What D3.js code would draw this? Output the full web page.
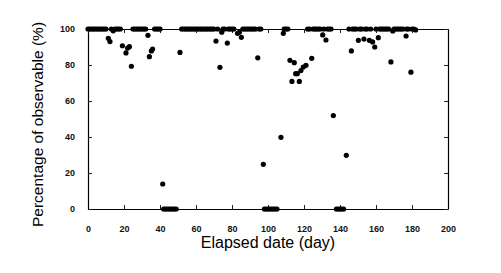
<!DOCTYPE html>
<html>
<head>
<meta charset="utf-8">
<script src="https://cdn.jsdelivr.net/npm/d3@7"></script>
<style>
  body { margin: 0; background: #fff; }
  svg { display: block; font-family: "Liberation Sans", Arial, Helvetica, sans-serif; }
  .tick text { font-size: 9px; font-weight: bold; fill: #111; }
</style>
</head>
<body>
<div class="chart"></div>
<script>
// days where the whole target was observable
const fullDays = [0,1,2,3,4,5,6,7,8,9,10, 13,15,16,17,18, 25,26,27,28,29,30,31,32, 37,38,39,40,
  52,53,54,55,56,57,58,59,60,61,62,63,64,65,66,67,68,69,70,72, 75,76,78,79,80,81,
  86,87,88,89,90,91,92,93,95,96, 109,110,111, 122,123,125,126,127,128,129,131,133,134,135,
  145,147,148,149,151,152,154,155,157,160,162,163,164,165,166,167,170,171,172,173,174,175,177,178,180,181];

// days with nothing observable
const zeroDays = [42,43,44,45,46,47,48,49, 98,99,100,101,102,103,104,105, 138,139,140,141,142];

// partially observable days
const partDays = [11.3,12.2,14,19.1,21.1,22,23,24.1,33.3,34.1,35.2,35.9,41.5,51.1,
  71.1,73.3,74.3,77.4,83.1,84.1,85.2,94.3,97.4,107.2,108.5,
  112.2,113.3,114.6,115.4,116.3,117.4,118.3,119.6,121.1,124.3,130.4,132.2,136.3,143.5,
  146.3,150.2,153.3,156.3,158.1,159.3,161.3,168.3,169.3,176.7,179.4,182];
const partValues = [94.8,93,99,90.7,86.7,89.4,90.2,79.3,96.5,84.6,87.8,88.9,13.9,87,
  93.3,78.7,98.2,92.2,97.6,98.2,95.4,84,24.8,39.8,97.6,
  82.6,70.9,81.3,75.2,75.2,70.9,76.9,78.9,79.8,83.7,96.7,93.9,51.9,29.8,
  87.8,93.7,94.4,93.7,92.8,90,95.2,81.7,98.9,96.1,76,99.5];

const xTicks = [0,20,40,60,80,100,120,140,160,180,200];
const yTicks = [0,20,40,60,80,100];

const points = fullDays.map(d => ({day: d, pct: 100}))
  .concat(zeroDays.map(d => ({day: d, pct: 0})))
  .concat(partDays.map((d, i) => ({day: d, pct: partValues[i]})));

const width = 501, height = 273;
const margin = {top: 29, right: 53, bottom: 64, left: 88};
const w = width - margin.left - margin.right;
const h = height - margin.top - margin.bottom;

const svg = d3.select('.chart').append('svg')
  .attr('width', width)
  .attr('height', height);

const g = svg.append('g')
  .attr('transform', `translate(${margin.left},${margin.top})`);

const x = d3.scaleLinear().domain([0, 200]).range([0, w]);
const y = d3.scaleLinear().domain([0, 100]).range([h, 0]);

// frame axes, ticks pointing inward
g.append('g')
  .attr('transform', `translate(0,${h})`)
  .call(d3.axisBottom(x).tickValues(xTicks).tickSizeInner(-4).tickSizeOuter(0).tickPadding(17));

g.append('g')
  .call(d3.axisLeft(y).tickValues(yTicks).tickSizeInner(-4).tickSizeOuter(0).tickPadding(13));

g.append('g')
  .call(d3.axisTop(x).tickValues(xTicks).tickSizeInner(-4).tickSizeOuter(0).tickFormat(''));

g.append('g')
  .attr('transform', `translate(${w},0)`)
  .call(d3.axisRight(y).tickValues(yTicks).tickSizeInner(-4).tickSizeOuter(0).tickFormat(''));

g.selectAll('.domain').attr('stroke', '#000').attr('stroke-width', 1.2);
g.selectAll('.tick line').attr('stroke', '#222');

g.append('g')
  .selectAll('circle')
  .data(points)
  .enter()
  .append('circle')
  .attr('cx', d => x(d.day))
  .attr('cy', d => y(d.pct))
  .attr('r', 2.6)
  .attr('fill', '#000');

svg.append('text')
  .attr('x', margin.left + w / 2)
  .attr('y', 248)
  .attr('text-anchor', 'middle')
  .style('font-size', '16px')
  .text('Elapsed date (day)');

svg.append('text')
  .attr('transform', 'translate(43,227) rotate(-90)')
  .attr('text-anchor', 'start')
  .style('font-size', '15.5px')
  .text('Percentage of observable (%)');
</script>
</body>
</html>
